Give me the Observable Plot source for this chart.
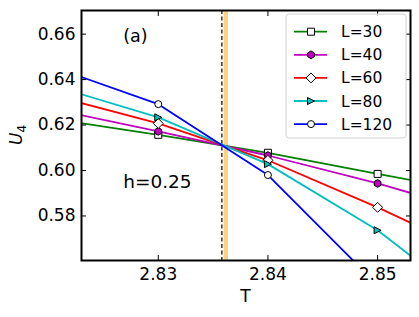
<!DOCTYPE html>
<html><head><meta charset="utf-8">
<script src="https://cdn.jsdelivr.net/npm/d3@7"></script>
<script src="https://cdn.jsdelivr.net/npm/@observablehq/plot@0.6"></script>
<style>body{margin:0;background:#fff;}</style>
</head><body><div id="chart"></div>
<script>
// ---- data ----
const temps = [2.82, 2.83, 2.84, 2.85, 2.86];
const sizes = ["L=30", "L=40", "L=60", "L=80", "L=120"];
const u30  = [0.6230, 0.6157, 0.6078, 0.5985, 0.5895];
const u40  = [0.6274, 0.6172, 0.6066, 0.5943, 0.5805];
const u60  = [0.6335, 0.6207, 0.6045, 0.5838, 0.5612];
const u80  = [0.6379, 0.6234, 0.6028, 0.5737, 0.5362];
const u120 = [0.6462, 0.6292, 0.5980, 0.5496, 0.5010];
const xTicks = [2.83, 2.84, 2.85];
const yTicks = [0.58, 0.60, 0.62, 0.64, 0.66];
const tCross = 2.8358;
const tBand = [2.8360, 2.8364];
const panelNote = [{t: 2.8268, u: 0.6591, s: "(a)"}];
const fieldNote = [{t: 2.8268, u: 0.5950, s: "h=0.25"}];

const colors = ["#008000", "#bf00bf", "#ff0000", "#00bfbf", "#0000ff"];
const fills  = ["white", "#bf00bf", "white", "#00bfbf", "white"];

// ---- symbols (matplotlib-like) ----
const tOf = s => Math.sqrt(s / Math.PI);
const symSquare = {draw(c, s) { const t = tOf(s); c.rect(-t, -t, 2 * t, 2 * t); }};
const symCircle = {draw(c, s) { const t = tOf(s); c.moveTo(t, 0); c.arc(0, 0, t, 0, 2 * Math.PI); }};
const symDiamond = {draw(c, s) { const t = tOf(s) * 1.414; c.moveTo(0, -t); c.lineTo(t, 0); c.lineTo(0, t); c.lineTo(-t, 0); c.closePath(); }};
const symHexagon = {draw(c, s) { const t = tOf(s) * 1.1; for (let k = 0; k < 6; k++) { const a = -Math.PI / 2 + k * Math.PI / 3; const x = t * Math.cos(a), y = t * Math.sin(a); k ? c.lineTo(x, y) : c.moveTo(x, y); } c.closePath(); }};
const symTriRight = {draw(c, s) { const t = tOf(s); c.moveTo(t, 0); c.lineTo(-t, t); c.lineTo(-t, -t); c.closePath(); }};
const symbols = [symSquare, symHexagon, symDiamond, symTriRight, symCircle];

const series = [u30, u40, u60, u80, u120];
const rows = series.flatMap((vals, i) => vals.map((u, j) => ({T: temps[j], U: u, L: sizes[i], i})));

const font = "DejaVu Sans, sans-serif";
const fmt = d3.format(".2f");

const chart = Plot.plot({
  width: 419, height: 317,
  marginLeft: 81, marginRight: 9, marginTop: 10, marginBottom: 57,
  style: {fontFamily: font, fontSize: "17px", background: "white", color: "black"},
  x: {domain: [2.8230, 2.8530], label: null},
  y: {domain: [0.5604, 0.6704], label: null},
  color: {domain: sizes, range: colors},
  marks: [
    Plot.rect([tBand], {x1: d => d[0], x2: d => d[1], fill: "#ffd280"}),
    Plot.ruleX([tCross], {stroke: "black", strokeWidth: 1.2, strokeDasharray: "4,2.5"}),
    Plot.line(rows, {x: "T", y: "U", z: "L", stroke: "L", strokeWidth: 1.8, clip: true}),
    ...series.map((_, i) => Plot.dot(rows.filter(d => d.i === i), {
      x: "T", y: "U", symbol: symbols[i], r: 3.5, fill: fills[i], stroke: "black", strokeWidth: 1, clip: true
    })),
    Plot.text(panelNote, {x: "t", y: "u", text: "s", textAnchor: "start", fontSize: 17.5}),
    Plot.text(fieldNote, {x: "t", y: "u", text: "s", textAnchor: "start", fontSize: 18.5}),
    Plot.axisX(xTicks, {anchor: "bottom", tickSize: 0, tickPadding: 7, tickFormat: fmt, label: null}),
    Plot.axisX(xTicks, {anchor: "bottom", tickSize: -5, tickFormat: () => "", label: null}),
    Plot.axisX(xTicks, {anchor: "top", tickSize: -5, tickFormat: () => "", label: null}),
    Plot.axisY(yTicks, {anchor: "left", tickSize: 0, tickPadding: 6, tickFormat: fmt, label: null}),
    Plot.axisY(yTicks, {anchor: "left", tickSize: -5, tickFormat: () => "", label: null}),
    Plot.axisY(yTicks, {anchor: "right", tickSize: -5, tickFormat: () => "", label: null}),
    Plot.frame({stroke: "black", strokeWidth: 2})
  ]
});
document.getElementById("chart").appendChild(chart);

// ---- axis titles and legend ----
const svg = d3.select(chart);
svg.append("text").attr("x", 245.5).attr("y", 302).attr("text-anchor", "middle")
  .attr("font-family", font).attr("font-size", 17).attr("fill", "black").text("T");
const yl = svg.append("text").attr("transform", "translate(22,135) rotate(-90)").attr("text-anchor", "middle")
  .attr("font-family", font).attr("font-size", 17).attr("fill", "black");
yl.append("tspan").attr("font-style", "italic").text("U");
yl.append("tspan").attr("font-size", 12).attr("dy", 4).text("4");

const lg = svg.append("g").attr("font-family", font).attr("font-size", 15.5).attr("text-anchor", "start");
lg.append("rect").attr("x", 286).attr("y", 14).attr("width", 120).attr("height", 124).attr("rx", 3)
  .attr("fill", "white").attr("fill-opacity", 0.8).attr("stroke", "#d0d0d0");
sizes.forEach((s, i) => {
  const cy = 31.7 + i * 23.1;
  lg.append("line").attr("x1", 294).attr("x2", 327).attr("y1", cy).attr("y2", cy)
    .attr("stroke", colors[i]).attr("stroke-width", 1.8);
  lg.append("path").attr("d", d3.symbol(symbols[i], Math.PI * 3.5 * 3.5)())
    .attr("transform", `translate(311,${cy})`).attr("fill", fills[i]).attr("stroke", "black").attr("stroke-width", 1);
  lg.append("text").attr("x", 341).attr("y", cy).attr("dy", "0.36em").attr("fill", "black").text(s);
});
</script>
</body></html>
